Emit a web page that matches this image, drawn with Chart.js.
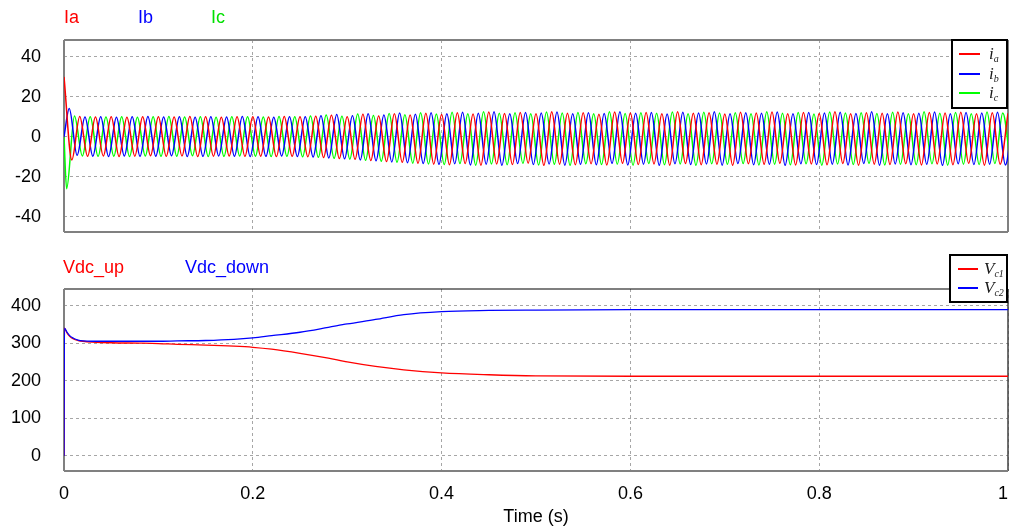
<!DOCTYPE html>
<html>
<head>
<meta charset="utf-8">
<script src="https://cdn.jsdelivr.net/npm/chart.js@4.4.0/dist/chart.umd.min.js"></script>
<style>
  body { margin: 0; background: #fff; width: 1009px; height: 529px; position: relative; overflow: hidden;
         font-family: "Liberation Sans", Arial, sans-serif; }
  canvas { position: absolute; left: 0; }
  .ttl { position: absolute; font-size: 18px; line-height: 20px; white-space: nowrap; }
  .box { position: absolute; border: 2px solid #000; background: #fff; box-sizing: border-box; }
  .ln { position: absolute; height: 2px; }
  .lb { position: absolute; font-family: "Liberation Serif", "DejaVu Serif", serif; font-style: italic;
        font-size: 17px; line-height: 17px; white-space: nowrap; color: #1a1a1a; }
  .lb sub { font-size: 10px; vertical-align: -3px; }
</style>
</head>
<body>
<canvas id="top" width="1009" height="240" style="top:0"></canvas>
<canvas id="bottom" width="1009" height="289" style="top:240px"></canvas>

<div class="ttl" style="left:64px; top:7px; color:#ff0000">Ia</div>
<div class="ttl" style="left:138px; top:7px; color:#0000ff">Ib</div>
<div class="ttl" style="left:211px; top:7px; color:#00e000">Ic</div>
<div class="ttl" style="left:63px; top:257px; color:#ff0000">Vdc_up</div>
<div class="ttl" style="left:185px; top:257px; color:#0000ff">Vdc_down</div>

<div class="box" style="left:951px; top:39px; width:57px; height:70px"></div>
<div class="ln" style="left:959px; top:53px; width:21px; background:#ff0000"></div>
<div class="ln" style="left:959px; top:73px; width:21px; background:#0000ff"></div>
<div class="ln" style="left:959px; top:92px; width:21px; background:#00ff00"></div>
<div class="lb" style="left:989px; top:45px">i<sub>a</sub></div>
<div class="lb" style="left:989px; top:65px">i<sub>b</sub></div>
<div class="lb" style="left:989px; top:84px">i<sub>c</sub></div>

<div class="box" style="left:949px; top:254px; width:59px; height:49px"></div>
<div class="ln" style="left:958px; top:268px; width:20px; background:#ff0000"></div>
<div class="ln" style="left:958px; top:287px; width:20px; background:#0000ff"></div>
<div class="lb" style="left:984px; top:260px">V<sub>c1</sub></div>
<div class="lb" style="left:984px; top:279px">V<sub>c2</sub></div>

<script>
// ---- data ----
// three-phase currents: value at every positive / negative extreme (60 Hz, one every half cycle)
const iaPeaks = [30, 10.2, 9.9, 10.1, 9.8, 10.0, 10.1, 9.9, 10.2, 10.0, 9.8, 10.1, 10.0, 9.9, 10.2, 10.0, 10.3,
  10.8, 10.1, 11.3, 10.4, 11.6, 10.9, 11.8, 11.2,
  12.1, 11.4, 12.4, 11.7, 12.2, 11.5, 12.5, 11.8, 12.0, 11.3, 12.4, 11.9, 12.2, 11.6, 12.5, 11.8, 12.1, 11.4,
  12.3, 11.9, 12.4, 11.6, 12.2, 11.7, 12.5, 11.5, 12.0, 11.8, 12.4, 11.6, 12.2, 11.9, 12.3, 11.5, 12.1, 11.8];
const iaTroughs = [-11.6, -9.8, -9.6, -9.9, -9.7, -9.5, -9.8, -9.6, -9.9, -9.7, -9.6, -9.8, -9.7, -9.9, -9.8, -10.0,
  -10.4, -10.9, -11.3, -11.9, -12.4, -12.8, -13.3, -13.7,
  -14.0, -13.4, -14.2, -13.6, -13.9, -13.2, -14.3, -13.7, -14.0, -13.5, -14.1, -13.3, -13.9, -13.6, -14.2, -13.4,
  -14.0, -13.7, -14.3, -13.5, -13.8, -13.3, -14.1, -13.6, -14.0, -13.4, -14.2, -13.7, -13.9, -13.5, -14.1, -13.6,
  -14.0, -13.3, -14.2, -13.7];
const ibPeaks = [14.2, 9.9, 10.1, 9.8, 10.0, 10.2, 9.9, 10.0, 9.8, 10.1, 9.9, 10.2, 10.0, 9.8, 10.1, 10.0,
  10.6, 11.2, 10.5, 11.5, 10.9, 11.9, 11.3, 12.0,
  11.5, 12.3, 11.8, 12.5, 11.6, 12.2, 11.9, 12.4, 11.5, 12.1, 11.7, 12.5, 11.8, 12.2, 11.4, 12.3, 11.9, 12.5,
  11.6, 12.0, 11.8, 12.4, 11.5, 12.2, 11.9, 12.3, 11.7, 12.5, 11.6, 12.1, 11.8, 12.4, 11.5, 12.2, 11.9, 12.3, 11.8];
const ibTroughs = [-9.3, -9.7, -9.9, -9.6, -9.8, -9.7, -9.5, -9.9, -9.8, -9.6, -9.7, -9.9, -9.8, -9.6, -9.9, -10.1,
  -10.6, -11.0, -11.6, -12.0, -12.6, -13.0, -13.4, -13.8,
  -13.5, -14.1, -13.7, -14.3, -13.4, -13.9, -13.6, -14.2, -13.8, -14.0, -13.3, -14.1, -13.7, -14.3, -13.5, -13.9,
  -13.6, -14.2, -13.4, -14.0, -13.8, -14.3, -13.5, -13.9, -13.7, -14.1, -13.4, -14.2, -13.6, -14.0, -13.8, -14.3,
  -13.5, -13.9, -13.7, -14.1];
const icTroughs = [-26, -9.6, -9.8, -9.7, -9.9, -9.6, -9.8, -9.7, -9.5, -9.9, -9.8, -9.6, -9.7, -9.9, -9.8, -10.0,
  -10.3, -10.8, -11.2, -11.8, -12.2, -12.7, -13.2, -13.6,
  -13.9, -13.4, -14.2, -13.6, -14.0, -13.3, -14.1, -13.8, -14.3, -13.5, -13.9, -13.7, -14.2, -13.4, -14.0, -13.6,
  -14.3, -13.5, -13.8, -13.4, -14.1, -13.7, -14.0, -13.5, -14.2, -13.6, -13.9, -13.3, -14.1, -13.8, -14.0, -13.5,
  -14.2, -13.7, -13.9, -13.4, -14.0];
const icPeaks = [10.4, 10.0, 9.9, 10.1, 9.8, 10.0, 10.2, 9.9, 10.1, 9.8, 10.0, 10.1, 9.9, 10.2, 10.0, 10.4,
  10.9, 10.3, 11.4, 10.7, 11.7, 11.1, 12.0, 11.4,
  12.3, 11.6, 12.5, 11.8, 12.1, 11.5, 12.4, 11.9, 12.2, 11.6, 12.5, 11.7, 12.0, 11.8, 12.4, 11.5, 12.3, 11.9,
  12.1, 11.6, 12.5, 11.8, 12.2, 11.4, 12.4, 11.9, 12.0, 11.7, 12.3, 11.6, 12.5, 11.8, 12.2, 11.5, 12.4, 11.9];

// dc-link capacitor voltages
const vdcTime = [0, 0.0005, 0.003, 0.006, 0.01, 0.015, 0.02, 0.03, 0.05, 0.08, 0.1, 0.12, 0.15, 0.18, 0.2,
  0.22, 0.25, 0.28, 0.3, 0.33, 0.36, 0.4, 0.45, 0.5, 0.6, 0.7, 0.8, 0.9, 1.0];
const vc1 = [0, 340, 328, 318, 311, 307, 305, 303, 301, 300, 299, 297, 295, 292, 289,
  284, 273, 260, 250, 238, 229, 221, 216, 213, 212, 212, 212, 212, 212];
const vc2 = [0, 340, 330, 320, 313, 308, 306, 305, 305, 305, 305, 306, 307, 310, 314,
  320, 329, 342, 351, 363, 376, 384, 387, 388, 389, 389, 389, 389, 389];

const xTicks = [0, 0.2, 0.4, 0.6, 0.8, 1];
const xTickLabels = ["0", "0.2", "0.4", "0.6", "0.8", "1"];
const iTicks = [-40, -20, 0, 20, 40];
const vTicks = [0, 100, 200, 300, 400];

// ---- chart ----
const HALF = 1 / 120; // half period of the 60 Hz current
const FONT = '"Liberation Sans", Arial, sans-serif';

function buildWave(firstT, first, second) {
  const pts = [];
  if (firstT > 0) pts.push({ x: 0, y: 0 });
  const n = first.length + second.length;
  for (let k = 0; k < n; k++) {
    const v = k % 2 === 0 ? first[k >> 1] : second[k >> 1];
    if (v === undefined) continue;
    pts.push({ x: firstT + k * HALF, y: v });
  }
  return pts;
}

// plot frame, drawn under the traces like in the simulator plot
const framePlugin = {
  id: "frame",
  beforeDatasetsDraw(chart, args, opts) {
    const { ctx, chartArea: a } = chart;
    const side = (x1, y1, x2, y2, s) => {
      ctx.strokeStyle = s[0];
      ctx.lineWidth = s[1];
      ctx.beginPath();
      ctx.moveTo(x1, y1);
      ctx.lineTo(x2, y2);
      ctx.stroke();
    };
    ctx.save();
    side(a.left, a.top, a.right, a.top, opts.top);
    side(a.right, a.top, a.right, a.bottom, opts.right);
    side(a.left, a.bottom, a.right, a.bottom, opts.bottom);
    side(a.left, a.top, a.left, a.bottom, opts.left);
    ctx.restore();
  },
};

function xScale(showLabels) {
  return {
    type: "linear",
    min: 0,
    max: 1,
    afterBuildTicks: (s) => { s.ticks = xTicks.map((v) => ({ value: v })); },
    ticks: {
      display: showLabels,
      color: "#000",
      padding: 12,
      maxRotation: 0,
      font: { size: 18, family: FONT },
      callback: (v, i) => (i === xTicks.length - 1 ? xTickLabels[i] + "  " : xTickLabels[i]),
    },
    title: {
      display: showLabels,
      text: "Time (s)",
      color: "#000",
      font: { size: 18, family: FONT },
      padding: { top: 0, bottom: 1 },
    },
    grid: { color: "#a6a6a6", lineWidth: 1, drawTicks: false },
    border: { display: false, dash: [3, 3] },
    afterFit: (s) => {
      s.height = showLabels ? 58 : 0;
      s.paddingLeft = 0;
      s.paddingRight = 0;
    },
  };
}

function yScale(min, max, ticks) {
  return {
    min: min,
    max: max,
    afterBuildTicks: (s) => { s.ticks = ticks.map((v) => ({ value: v })); },
    ticks: { color: "#000", padding: 23, font: { size: 18, family: FONT } },
    grid: { color: "#a6a6a6", lineWidth: 1, drawTicks: false },
    border: { display: false, dash: [3, 3] },
    afterFit: (s) => {
      s.width = 64;
      s.paddingTop = 0;
      s.paddingBottom = 0;
    },
  };
}

function line(data, color, width) {
  return {
    data: data,
    borderColor: color,
    borderWidth: width,
    pointRadius: 0,
    fill: false,
    cubicInterpolationMode: "monotone",
  };
}

new Chart(document.getElementById("top"), {
  type: "line",
  data: {
    datasets: [
      line(buildWave(0, iaPeaks, iaTroughs), "#ff0000", 1.5),
      line(buildWave(1 / 180, ibPeaks, ibTroughs), "#0000ff", 1.5),
      line(buildWave(1 / 360, icTroughs, icPeaks), "#00ff00", 1.5),
    ],
  },
  options: {
    responsive: false,
    animation: false,
    layout: { padding: { top: 40, bottom: 8, left: 0, right: 1 } },
    plugins: {
      legend: { display: false },
      tooltip: { enabled: false },
      frame: { top: ["#808080", 2], right: ["#808080", 2], bottom: ["#808080", 2], left: ["#808080", 2] },
    },
    scales: { x: xScale(false), y: yScale(-47.7, 48.5, iTicks) },
  },
  plugins: [framePlugin],
});

new Chart(document.getElementById("bottom"), {
  type: "line",
  data: {
    datasets: [
      line(vdcTime.map((t, i) => ({ x: t, y: vc2[i] })), "#0000ff", 1.3),
      line(vdcTime.map((t, i) => ({ x: t, y: vc1[i] })), "#ff0000", 1.3),
    ],
  },
  options: {
    responsive: false,
    animation: false,
    layout: { padding: { top: 49, bottom: 0, left: 0, right: 1 } },
    plugins: {
      legend: { display: false },
      tooltip: { enabled: false },
      frame: { top: ["#000000", 1.2], right: ["#404040", 1.5], bottom: ["#808080", 2], left: ["#808080", 2] },
    },
    scales: { x: xScale(true), y: yScale(-40, 444, vTicks) },
  },
  plugins: [framePlugin],
});
</script>
</body>
</html>
